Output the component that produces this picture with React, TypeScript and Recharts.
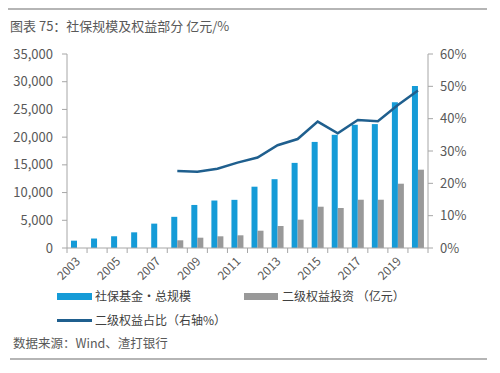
import React from "react";
import { ComposedChart, Bar, Line, XAxis, YAxis } from "recharts";

const years = ["2003","2004","2005","2006","2007","2008","2009","2010","2011","2012","2013","2014","2015","2016","2017","2018","2019","2020"];
const totalScale = [1325, 1711, 2118, 2828, 4397, 5624, 7766, 8567, 8688, 11060, 12416, 15356, 19138, 20423, 22231, 22354, 26285, 29227];
const equityInvest: (number | null)[] = [null, null, null, null, null, 1390, 1860, 2110, 2290, 3120, 3970, 5110, 7450, 7220, 8710, 8710, 11600, 14130];
const equityShare: (number | null)[] = [null, null, null, null, null, 23.8, 23.6, 24.5, 26.4, 28.0, 31.8, 33.7, 39.1, 35.5, 39.6, 39.2, 44.2, 48.7];
const leftTicks = [0, 5000, 10000, 15000, 20000, 25000, 30000, 35000];
const rightTicks = [0, 10, 20, 30, 40, 50, 60];

const data = years.map((y, i) => ({
  year: y,
  total: totalScale[i],
  equity: equityInvest[i],
  share: equityShare[i],
}));

const FONT = "'Noto Sans CJK SC', 'Noto Sans', sans-serif";
const TXT = "#595959";
const AXIS = "#a6a6a6";
const BLUE = "#159bd7";
const GRAY = "#999999";
const LINE = "#1f5f8e";

const PLOT_L = 67;
const PLOT_R = 428;
const BAND = (PLOT_R - PLOT_L) / years.length;

const renderXTick = (props: any) => {
  const { x, y, payload, index } = props;
  const show = index % 2 === 0;
  return (
    <g key={`xt-${index}`}>
      <line x1={x - BAND / 2} x2={x - BAND / 2} y1={y} y2={y + 5} stroke={AXIS} strokeWidth={1} />
      {index === years.length - 1 && (
        <line x1={x + BAND / 2} x2={x + BAND / 2} y1={y} y2={y + 5} stroke={AXIS} strokeWidth={1} />
      )}
      {show && (
        <g transform={`translate(${x + 4}, ${y + 14})`}>
          <text
            x={0}
            y={0}
            textAnchor="end"
            fontSize={12}
            fill={TXT}
            fontFamily={FONT}
            transform="rotate(-45)"
          >
            {payload.value}
          </text>
        </g>
      )}
    </g>
  );
};

export default function App() {
  return (
    <div style={{ position: "fixed", left: 0, top: 0, width: 500, height: 373, background: "#fff", fontFamily: FONT }}>
      <div style={{ position: "absolute", left: 8, top: 8, width: 479, height: 2, background: "#b5b5b5" }} />
      <div style={{ position: "absolute", left: 10, top: 17, fontSize: 13, color: TXT, whiteSpace: "nowrap", lineHeight: "18px" }}>
        图表 75：社保规模及权益部分 亿元/%
      </div>
      <div style={{ position: "absolute", left: 0, top: 0 }}>
        <ComposedChart
          width={500}
          height={373}
          data={data}
          margin={{ top: 54, right: 0, left: 0, bottom: 95 }}
          barGap={0}
          barCategoryGap={0}
        >
          <XAxis
            dataKey="year"
            interval={0}
            tickLine={false}
            axisLine={{ stroke: AXIS }}
            tick={renderXTick}
            tickSize={0}
            tickMargin={0}
            height={30}
          />
          <YAxis
            yAxisId="left"
            orientation="left"
            width={67}
            domain={[0, 35000]}
            ticks={leftTicks}
            tickSize={5}
            tickMargin={9}
            axisLine={{ stroke: AXIS }}
            tickLine={{ stroke: AXIS }}
            tick={{ fill: TXT, fontSize: 13, fontFamily: FONT }}
            tickFormatter={(v: number) => v.toLocaleString("en-US")}
          />
          <YAxis
            yAxisId="right"
            orientation="right"
            width={72}
            domain={[0, 60]}
            ticks={rightTicks}
            tickSize={5}
            tickMargin={7}
            axisLine={{ stroke: AXIS }}
            tickLine={{ stroke: AXIS }}
            tick={{ fill: TXT, fontSize: 13, fontFamily: FONT, textAnchor: "start" }}
            tickFormatter={(v: number) => `${v}%`}
          />
          <Bar yAxisId="left" dataKey="total" fill={BLUE} barSize={6} isAnimationActive={false} />
          <Bar yAxisId="left" dataKey="equity" fill={GRAY} barSize={6} isAnimationActive={false} />
          <Line
            yAxisId="right"
            dataKey="share"
            stroke={LINE}
            strokeWidth={2.5}
            dot={false}
            type="linear"
            isAnimationActive={false}
          />
        </ComposedChart>
      </div>
      {/* legend */}
      <div style={{ position: "absolute", left: 57, top: 293, width: 35, height: 7, background: BLUE }} />
      <div style={{ position: "absolute", left: 95, top: 287, fontSize: 12, color: "#404040", lineHeight: "18px", whiteSpace: "nowrap" }}>
        社保基金·总规模
      </div>
      <div style={{ position: "absolute", left: 244, top: 293, width: 34, height: 7, background: GRAY }} />
      <div style={{ position: "absolute", left: 282, top: 287, fontSize: 12, color: "#404040", lineHeight: "18px", whiteSpace: "nowrap" }}>
        二级权益投资 （亿元）
      </div>
      <div style={{ position: "absolute", left: 57, top: 319, width: 35, height: 2.5, background: LINE }} />
      <div style={{ position: "absolute", left: 95, top: 311, fontSize: 12, color: "#404040", lineHeight: "18px", whiteSpace: "nowrap" }}>
        二级权益占比（右轴%）
      </div>
      <div style={{ position: "absolute", left: 13, top: 334, fontSize: 12.5, color: TXT, lineHeight: "18px", whiteSpace: "nowrap" }}>
        数据来源：Wind、渣打银行
      </div>
      <div style={{ position: "absolute", left: 10, top: 358, width: 477, height: 2, background: "#b5b5b5" }} />
    </div>
  );
}
